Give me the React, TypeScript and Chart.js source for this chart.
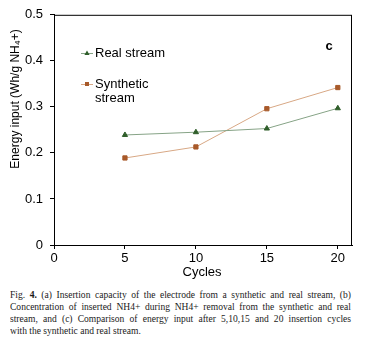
import React, { useEffect, useRef } from "react";
import { Chart, registerables } from "chart.js";

Chart.register(...registerables);

const cycles = [5, 10, 15, 20];
const realStream = [0.239, 0.245, 0.253, 0.297];
const syntheticStream = [0.189, 0.213, 0.296, 0.342];
const xTicks = [0, 5, 10, 15, 20];
const yTicks = [0, 0.1, 0.2, 0.3, 0.4, 0.5];
const yTickLabels = ["0", "0.1", "0.2", "0.3", "0.4", "0.5"];
const seriesNames = ["Real stream", "Synthetic stream"];
const panelLabel = "c";
const xTitle = "Cycles";
const yTitle = "Energy input (Wh/g NH\u2084+)";
const captionLines = [
  "(a) Insertion capacity of the electrode from a synthetic and real stream, (b)",
  "Concentration of inserted NH4+ during NH4+ removal from the synthetic and real",
  "stream, and (c) Comparison of energy input after 5,10,15 and 20 insertion cycles",
  "with the synthetic and real stream.",
];

const FONT = "'Liberation Sans', Arial, sans-serif";

const overlay = {
  id: "overlay",
  afterDraw(chart: any) {
    const { ctx, chartArea } = chart;
    const { left, right, top, bottom } = chartArea;
    ctx.save();
    ctx.strokeStyle = "#000";
    ctx.lineWidth = 1;
    ctx.strokeRect(left + 0.5, top + 0.5, right - left - 1, bottom - top);
    ctx.fillStyle = "#000";
    ctx.font = `13px ${FONT}`;
    ctx.textAlign = "center";
    ctx.textBaseline = "middle";
    ctx.fillText(xTitle, (left + right) / 2 - 1, 272);
    ctx.save();
    ctx.translate(15.5, 99);
    ctx.rotate(-Math.PI / 2);
    ctx.font = `12px ${FONT}`;
    ctx.fillText(yTitle, 0, 0);
    ctx.restore();
    ctx.font = `bold 13px ${FONT}`;
    ctx.fillText(panelLabel, 329, 46);
    const ds = chart.data.datasets;
    const entries = [
      { y: 53, lines: [seriesNames[0]], d: ds[0], style: "triangle" },
      { y: 84, lines: ["Synthetic", "stream"], d: ds[1], style: "rect" },
    ];
    entries.forEach((e) => {
      ctx.strokeStyle = e.d.borderColor;
      ctx.lineWidth = 1;
      ctx.beginPath();
      ctx.moveTo(81, e.y + 0.5);
      ctx.lineTo(93, e.y + 0.5);
      ctx.stroke();
      ctx.fillStyle = e.d.pointBackgroundColor;
      ctx.beginPath();
      if (e.style === "triangle") {
        ctx.moveTo(87, e.y - 2.5);
        ctx.lineTo(89.6, e.y + 2);
        ctx.lineTo(84.4, e.y + 2);
        ctx.closePath();
      } else {
        ctx.rect(85, e.y - 2, 4, 4);
      }
      ctx.fill();
      ctx.fillStyle = "#000";
      ctx.font = `13px ${FONT}`;
      ctx.textAlign = "left";
      e.lines.forEach((t, i) => ctx.fillText(t, 95, e.y + i * 14.5));
    });
    ctx.restore();
  },
};

export default function App() {
  const ref = useRef<HTMLCanvasElement>(null);
  useEffect(() => {
    const chart = new Chart(ref.current as HTMLCanvasElement, {
      type: "line",
      data: {
        datasets: [
          {
            label: seriesNames[0],
            data: cycles.map((c, i) => ({ x: c, y: realStream[i] })),
            borderColor: "#86a386",
            borderWidth: 1,
            pointStyle: "triangle",
            pointRadius: 3,
            pointBackgroundColor: "#2f5e2a",
            pointBorderColor: "#2f5e2a",
            pointBorderWidth: 1,
          },
          {
            label: seriesNames[1],
            data: cycles.map((c, i) => ({ x: c, y: syntheticStream[i] })),
            borderColor: "#d8a885",
            borderWidth: 1,
            pointStyle: "rect",
            pointRadius: 3,
            pointBackgroundColor: "#a85a2a",
            pointBorderColor: "#a85a2a",
            pointBorderWidth: 1,
          },
        ],
      },
      options: {
        animation: false,
        responsive: false,
        devicePixelRatio: 1,
        layout: { padding: { left: 0, right: 13, top: 14, bottom: 0 } },
        plugins: { legend: { display: false }, tooltip: { enabled: false } },
        scales: {
          x: {
            type: "linear",
            min: 0,
            max: 21,
            afterBuildTicks: (s: any) => {
              s.ticks = xTicks.map((v) => ({ value: v }));
            },
            afterFit: (s: any) => {
              s.height = 37;
            },
            grid: { drawOnChartArea: false, drawTicks: true, tickLength: 4, color: "#000" },
            border: { display: true, color: "#000", width: 1 },
            ticks: {
              color: "#000",
              font: { family: FONT, size: 13 },
              padding: 2,
              maxRotation: 0,
              callback: (v: any) => String(v),
            },
          },
          y: {
            min: 0,
            max: 0.5,
            afterBuildTicks: (s: any) => {
              s.ticks = yTicks.map((v) => ({ value: v }));
            },
            afterFit: (s: any) => {
              s.width = 54;
            },
            grid: { drawOnChartArea: false, drawTicks: true, tickLength: 4, color: "#000" },
            border: { display: true, color: "#000", width: 1 },
            ticks: {
              color: "#000",
              font: { family: FONT, size: 13 },
              padding: 7,
              callback: (v: any) => {
                const i = yTicks.findIndex((t) => Math.abs(t - v) < 1e-9);
                return i >= 0 ? yTickLabels[i] : "";
              },
            },
          },
        },
      },
      plugins: [overlay],
    } as any);
    return () => chart.destroy();
  }, []);

  const scale = 0.9;
  const w = 341 / scale;
  return (
    <div style={{ position: "fixed", left: 0, top: 0, width: 365, height: 339, background: "#fff", overflow: "hidden" }}>
      <canvas ref={ref} width={365} height={282} style={{ display: "block" }} />
      <div
        style={{
          position: "absolute",
          left: 10,
          top: 289,
          width: w,
          transform: `scaleX(${scale})`,
          transformOrigin: "0 0",
          fontFamily: "'Liberation Serif', 'Times New Roman', serif",
          fontSize: 10.6,
          lineHeight: "12px",
          color: "#1a1a1a",
        }}
      >
        {captionLines.map((t, i) => (
          <div
            key={i}
            style={{
              whiteSpace: "nowrap",
              textAlign: i < captionLines.length - 1 ? "justify" : "left",
              textAlignLast: i < captionLines.length - 1 ? "justify" : "left",
            }}
          >
            {i === 0 ? (
              <>
                Fig. <b>4.</b> {t}
              </>
            ) : (
              t
            )}
          </div>
        ))}
      </div>
    </div>
  );
}
